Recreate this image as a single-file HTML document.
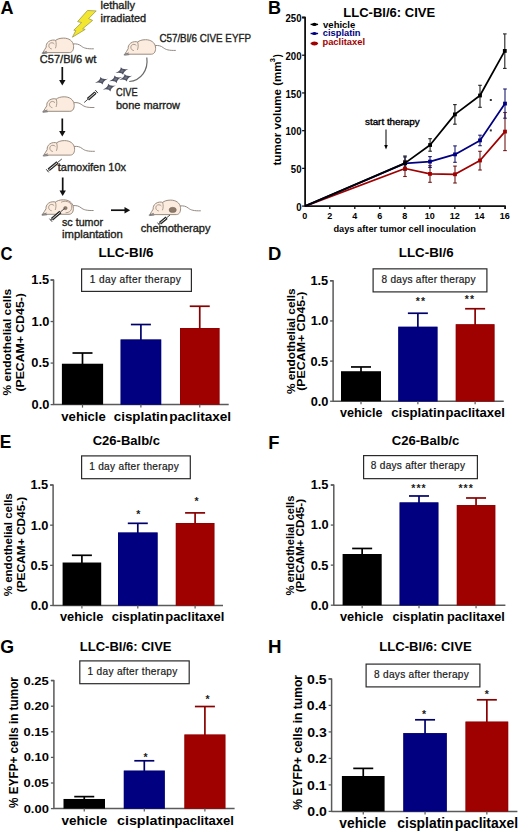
<!DOCTYPE html>
<html><head><meta charset="utf-8"><style>
html,body{margin:0;padding:0;background:#fff;}
svg{display:block;font-family:"Liberation Sans", sans-serif;}
</style></head><body>
<svg width="520" height="833" viewBox="0 0 520 833">
<rect width="520" height="833" fill="#fff"/>
<path d="M50.60,280.00 H53.60 V404.60 H228.70" fill="none" stroke="#5a5a5a" stroke-width="1.5" stroke-linejoin="round"/>
<line x1="50.60" y1="404.60" x2="53.60" y2="404.60" stroke="#5a5a5a" stroke-width="1.3" />
<text x="31.53" y="409.00" font-size="12.8" font-weight="bold" fill="#000" textLength="17.79" lengthAdjust="spacingAndGlyphs">0.0</text>
<line x1="50.60" y1="363.07" x2="53.60" y2="363.07" stroke="#5a5a5a" stroke-width="1.3" />
<text x="31.36" y="367.47" font-size="12.8" font-weight="bold" fill="#000" textLength="17.79" lengthAdjust="spacingAndGlyphs">0.5</text>
<line x1="50.60" y1="321.53" x2="53.60" y2="321.53" stroke="#5a5a5a" stroke-width="1.3" />
<text x="31.53" y="325.93" font-size="12.8" font-weight="bold" fill="#000" textLength="17.79" lengthAdjust="spacingAndGlyphs">1.0</text>
<line x1="50.60" y1="280.00" x2="53.60" y2="280.00" stroke="#5a5a5a" stroke-width="1.3" />
<text x="31.36" y="284.39" font-size="12.8" font-weight="bold" fill="#000" textLength="17.79" lengthAdjust="spacingAndGlyphs">1.5</text>
<line x1="82.50" y1="364.73" x2="82.50" y2="353.01" stroke="#000" stroke-width="1.7" />
<line x1="72.50" y1="353.01" x2="92.50" y2="353.01" stroke="#000" stroke-width="1.7" />
<rect x="61.90" y="363.73" width="41.20" height="40.87" fill="#000" />
<line x1="82.50" y1="404.60" x2="82.50" y2="407.60" stroke="#5a5a5a" stroke-width="1.2" />
<line x1="140.90" y1="340.47" x2="140.90" y2="324.52" stroke="#00006c" stroke-width="1.7" />
<line x1="130.90" y1="324.52" x2="150.90" y2="324.52" stroke="#00006c" stroke-width="1.7" />
<rect x="120.60" y="339.47" width="40.60" height="65.13" fill="#000080" />
<rect x="121.00" y="339.87" width="39.80" height="64.73" fill="none" stroke="#00006c" stroke-width="0.8" opacity="0.6"/>
<line x1="140.90" y1="404.60" x2="140.90" y2="407.60" stroke="#5a5a5a" stroke-width="1.2" />
<line x1="199.75" y1="329.01" x2="199.75" y2="306.25" stroke="#880000" stroke-width="1.7" />
<line x1="189.75" y1="306.25" x2="209.75" y2="306.25" stroke="#880000" stroke-width="1.7" />
<rect x="180.00" y="328.01" width="39.50" height="76.59" fill="#9f0000" />
<rect x="180.40" y="328.41" width="38.70" height="76.19" fill="none" stroke="#880000" stroke-width="0.8" opacity="0.6"/>
<line x1="199.75" y1="404.60" x2="199.75" y2="407.60" stroke="#5a5a5a" stroke-width="1.2" />
<rect x="81.60" y="269.00" width="109.80" height="22.40" fill="#fff" stroke="#2a2a2a" stroke-width="1.2"/>
<text x="89.83" y="283.00" font-size="10.1" font-weight="normal" fill="#1a1a1a" textLength="90.99" lengthAdjust="spacing" stroke="#1a1a1a" stroke-width="0.2">1 day after therapy</text>
<text x="98.50" y="257.10" font-size="12" font-weight="bold" fill="#000" textLength="55.08" lengthAdjust="spacingAndGlyphs" >LLC-Bl/6</text>
<text x="0.52" y="260.10" font-size="18" font-weight="bold" fill="#000" textLength="12.04" lengthAdjust="spacingAndGlyphs" >C</text>
<text x="61.35" y="421.00" font-size="12.5" font-weight="bold" fill="#000" textLength="44.40" lengthAdjust="spacingAndGlyphs" >vehicle</text>
<text x="113.78" y="421.00" font-size="12.5" font-weight="bold" fill="#000" textLength="54.25" lengthAdjust="spacingAndGlyphs" >cisplatin</text>
<text x="169.20" y="421.00" font-size="12.5" font-weight="bold" fill="#000" textLength="61.96" lengthAdjust="spacingAndGlyphs" >paclitaxel</text>
<text transform="translate(10.80,395.60) rotate(-90)" x="0" y="0" font-size="11.8" font-weight="bold" fill="#000" textLength="106.69" lengthAdjust="spacingAndGlyphs" >% endothelial cells</text>
<text transform="translate(23.80,391.61) rotate(-90)" x="0" y="0" font-size="11.5" font-weight="bold" fill="#000" textLength="98.52" lengthAdjust="spacingAndGlyphs" >(PECAM+ CD45-)</text>
<path d="M330.10,280.80 H333.10 V401.25 H503.75" fill="none" stroke="#5a5a5a" stroke-width="1.5" stroke-linejoin="round"/>
<line x1="330.10" y1="401.25" x2="333.10" y2="401.25" stroke="#5a5a5a" stroke-width="1.3" />
<text x="310.63" y="405.65" font-size="12.8" font-weight="bold" fill="#000" textLength="17.79" lengthAdjust="spacingAndGlyphs">0.0</text>
<line x1="330.10" y1="361.10" x2="333.10" y2="361.10" stroke="#5a5a5a" stroke-width="1.3" />
<text x="310.46" y="365.50" font-size="12.8" font-weight="bold" fill="#000" textLength="17.79" lengthAdjust="spacingAndGlyphs">0.5</text>
<line x1="330.10" y1="320.95" x2="333.10" y2="320.95" stroke="#5a5a5a" stroke-width="1.3" />
<text x="310.63" y="325.35" font-size="12.8" font-weight="bold" fill="#000" textLength="17.79" lengthAdjust="spacingAndGlyphs">1.0</text>
<line x1="330.10" y1="280.80" x2="333.10" y2="280.80" stroke="#5a5a5a" stroke-width="1.3" />
<text x="310.46" y="285.20" font-size="12.8" font-weight="bold" fill="#000" textLength="17.79" lengthAdjust="spacingAndGlyphs">1.5</text>
<line x1="361.00" y1="372.22" x2="361.00" y2="366.96" stroke="#000" stroke-width="1.7" />
<line x1="351.00" y1="366.96" x2="371.00" y2="366.96" stroke="#000" stroke-width="1.7" />
<rect x="341.00" y="371.22" width="40.00" height="30.03" fill="#000" />
<line x1="361.00" y1="401.25" x2="361.00" y2="404.25" stroke="#5a5a5a" stroke-width="1.2" />
<line x1="417.88" y1="327.73" x2="417.88" y2="313.24" stroke="#00006c" stroke-width="1.7" />
<line x1="407.88" y1="313.24" x2="427.88" y2="313.24" stroke="#00006c" stroke-width="1.7" />
<rect x="398.25" y="326.73" width="39.25" height="74.52" fill="#000080" />
<rect x="398.65" y="327.13" width="38.45" height="74.12" fill="none" stroke="#00006c" stroke-width="0.8" opacity="0.6"/>
<line x1="417.88" y1="401.25" x2="417.88" y2="404.25" stroke="#5a5a5a" stroke-width="1.2" />
<line x1="475.12" y1="325.24" x2="475.12" y2="308.74" stroke="#880000" stroke-width="1.7" />
<line x1="465.12" y1="308.74" x2="485.12" y2="308.74" stroke="#880000" stroke-width="1.7" />
<rect x="455.75" y="324.24" width="38.75" height="77.01" fill="#9f0000" />
<rect x="456.15" y="324.64" width="37.95" height="76.61" fill="none" stroke="#880000" stroke-width="0.8" opacity="0.6"/>
<line x1="475.12" y1="401.25" x2="475.12" y2="404.25" stroke="#5a5a5a" stroke-width="1.2" />
<text x="415.80" y="304.65" font-size="10.5" font-weight="bold" fill="#1a1a1a">*</text>
<text x="420.90" y="304.65" font-size="10.5" font-weight="bold" fill="#1a1a1a">*</text>
<text x="464.80" y="302.95" font-size="10.5" font-weight="bold" fill="#1a1a1a">*</text>
<text x="469.90" y="302.95" font-size="10.5" font-weight="bold" fill="#1a1a1a">*</text>
<rect x="373.10" y="268.85" width="113.80" height="23.05" fill="#fff" stroke="#2a2a2a" stroke-width="1.2"/>
<text x="381.56" y="282.65" font-size="10.1" font-weight="normal" fill="#1a1a1a" textLength="93.96" lengthAdjust="spacing" stroke="#1a1a1a" stroke-width="0.2">8 days after therapy</text>
<text x="398.86" y="257.10" font-size="12" font-weight="bold" fill="#000" textLength="54.72" lengthAdjust="spacingAndGlyphs" >LLC-Bl/6</text>
<text x="267.97" y="259.60" font-size="18" font-weight="bold" fill="#000" textLength="13.31" lengthAdjust="spacingAndGlyphs" >D</text>
<text x="339.95" y="417.30" font-size="12.5" font-weight="bold" fill="#000" textLength="42.58" lengthAdjust="spacingAndGlyphs" >vehicle</text>
<text x="391.18" y="417.30" font-size="12.5" font-weight="bold" fill="#000" textLength="53.53" lengthAdjust="spacingAndGlyphs" >cisplatin</text>
<text x="445.44" y="417.30" font-size="12.5" font-weight="bold" fill="#000" textLength="59.48" lengthAdjust="spacingAndGlyphs" >paclitaxel</text>
<text transform="translate(295.00,394.09) rotate(-90)" x="0" y="0" font-size="11.8" font-weight="bold" fill="#000" textLength="105.68" lengthAdjust="spacingAndGlyphs" >% endothelial cells</text>
<text transform="translate(304.50,390.82) rotate(-90)" x="0" y="0" font-size="11.5" font-weight="bold" fill="#000" textLength="99.23" lengthAdjust="spacingAndGlyphs" >(PECAM+ CD45-)</text>
<path d="M50.10,485.00 H53.10 V605.50 H223.00" fill="none" stroke="#5a5a5a" stroke-width="1.5" stroke-linejoin="round"/>
<line x1="50.10" y1="605.50" x2="53.10" y2="605.50" stroke="#5a5a5a" stroke-width="1.3" />
<text x="30.63" y="609.90" font-size="12.8" font-weight="bold" fill="#000" textLength="17.79" lengthAdjust="spacingAndGlyphs">0.0</text>
<line x1="50.10" y1="565.34" x2="53.10" y2="565.34" stroke="#5a5a5a" stroke-width="1.3" />
<text x="30.46" y="569.74" font-size="12.8" font-weight="bold" fill="#000" textLength="17.79" lengthAdjust="spacingAndGlyphs">0.5</text>
<line x1="50.10" y1="525.17" x2="53.10" y2="525.17" stroke="#5a5a5a" stroke-width="1.3" />
<text x="30.63" y="529.57" font-size="12.8" font-weight="bold" fill="#000" textLength="17.79" lengthAdjust="spacingAndGlyphs">1.0</text>
<line x1="50.10" y1="485.00" x2="53.10" y2="485.00" stroke="#5a5a5a" stroke-width="1.3" />
<text x="30.46" y="489.40" font-size="12.8" font-weight="bold" fill="#000" textLength="17.79" lengthAdjust="spacingAndGlyphs">1.5</text>
<line x1="81.90" y1="563.52" x2="81.90" y2="555.29" stroke="#000" stroke-width="1.7" />
<line x1="71.90" y1="555.29" x2="91.90" y2="555.29" stroke="#000" stroke-width="1.7" />
<rect x="62.60" y="562.52" width="38.60" height="42.98" fill="#000" />
<line x1="81.90" y1="605.50" x2="81.90" y2="608.50" stroke="#5a5a5a" stroke-width="1.2" />
<line x1="137.80" y1="533.48" x2="137.80" y2="523.32" stroke="#00006c" stroke-width="1.7" />
<line x1="127.80" y1="523.32" x2="147.80" y2="523.32" stroke="#00006c" stroke-width="1.7" />
<rect x="118.00" y="532.48" width="39.60" height="73.02" fill="#000080" />
<rect x="118.40" y="532.88" width="38.80" height="72.62" fill="none" stroke="#00006c" stroke-width="0.8" opacity="0.6"/>
<line x1="137.80" y1="605.50" x2="137.80" y2="608.50" stroke="#5a5a5a" stroke-width="1.2" />
<line x1="195.10" y1="524.00" x2="195.10" y2="512.88" stroke="#880000" stroke-width="1.7" />
<line x1="185.10" y1="512.88" x2="205.10" y2="512.88" stroke="#880000" stroke-width="1.7" />
<rect x="175.80" y="523.00" width="38.60" height="82.50" fill="#9f0000" />
<rect x="176.20" y="523.40" width="37.80" height="82.10" fill="none" stroke="#880000" stroke-width="0.8" opacity="0.6"/>
<line x1="195.10" y1="605.50" x2="195.10" y2="608.50" stroke="#5a5a5a" stroke-width="1.2" />
<text x="136.25" y="518.15" font-size="10.5" font-weight="bold" fill="#1a1a1a">*</text>
<text x="194.45" y="504.55" font-size="10.5" font-weight="bold" fill="#1a1a1a">*</text>
<rect x="81.60" y="455.90" width="108.70" height="22.80" fill="#fff" stroke="#2a2a2a" stroke-width="1.2"/>
<text x="89.13" y="469.80" font-size="10.1" font-weight="normal" fill="#1a1a1a" textLength="89.69" lengthAdjust="spacing" stroke="#1a1a1a" stroke-width="0.2">1 day after therapy</text>
<text x="92.67" y="444.50" font-size="12.6" font-weight="bold" fill="#000" textLength="67.32" lengthAdjust="spacingAndGlyphs" >C26-Balb/c</text>
<text x="-0.16" y="448.20" font-size="18" font-weight="bold" fill="#000" textLength="11.53" lengthAdjust="spacingAndGlyphs" >E</text>
<text x="59.95" y="620.80" font-size="12.5" font-weight="bold" fill="#000" textLength="43.29" lengthAdjust="spacingAndGlyphs" >vehicle</text>
<text x="111.69" y="620.80" font-size="12.5" font-weight="bold" fill="#000" textLength="52.51" lengthAdjust="spacingAndGlyphs" >cisplatin</text>
<text x="165.25" y="620.80" font-size="12.5" font-weight="bold" fill="#000" textLength="59.07" lengthAdjust="spacingAndGlyphs" >paclitaxel</text>
<text transform="translate(11.50,596.29) rotate(-90)" x="0" y="0" font-size="11.8" font-weight="bold" fill="#000" textLength="103.06" lengthAdjust="spacingAndGlyphs" >% endothelial cells</text>
<text transform="translate(24.50,592.29) rotate(-90)" x="0" y="0" font-size="11.5" font-weight="bold" fill="#000" textLength="95.59" lengthAdjust="spacingAndGlyphs" >(PECAM+ CD45-)</text>
<path d="M330.80,485.01 H333.80 V605.20 H505.40" fill="none" stroke="#5a5a5a" stroke-width="1.5" stroke-linejoin="round"/>
<line x1="330.80" y1="605.20" x2="333.80" y2="605.20" stroke="#5a5a5a" stroke-width="1.3" />
<text x="310.83" y="609.60" font-size="12.8" font-weight="bold" fill="#000" textLength="17.79" lengthAdjust="spacingAndGlyphs">0.0</text>
<line x1="330.80" y1="565.13" x2="333.80" y2="565.13" stroke="#5a5a5a" stroke-width="1.3" />
<text x="310.66" y="569.53" font-size="12.8" font-weight="bold" fill="#000" textLength="17.79" lengthAdjust="spacingAndGlyphs">0.5</text>
<line x1="330.80" y1="525.07" x2="333.80" y2="525.07" stroke="#5a5a5a" stroke-width="1.3" />
<text x="310.83" y="529.47" font-size="12.8" font-weight="bold" fill="#000" textLength="17.79" lengthAdjust="spacingAndGlyphs">1.0</text>
<line x1="330.80" y1="485.01" x2="333.80" y2="485.01" stroke="#5a5a5a" stroke-width="1.3" />
<text x="310.66" y="489.41" font-size="12.8" font-weight="bold" fill="#000" textLength="17.79" lengthAdjust="spacingAndGlyphs">1.5</text>
<line x1="362.15" y1="555.00" x2="362.15" y2="548.47" stroke="#000" stroke-width="1.7" />
<line x1="352.15" y1="548.47" x2="372.15" y2="548.47" stroke="#000" stroke-width="1.7" />
<rect x="342.60" y="554.00" width="39.10" height="51.20" fill="#000" />
<line x1="362.15" y1="605.20" x2="362.15" y2="608.20" stroke="#5a5a5a" stroke-width="1.2" />
<line x1="419.00" y1="503.39" x2="419.00" y2="495.98" stroke="#00006c" stroke-width="1.7" />
<line x1="409.00" y1="495.98" x2="429.00" y2="495.98" stroke="#00006c" stroke-width="1.7" />
<rect x="399.60" y="502.39" width="38.80" height="102.81" fill="#000080" />
<rect x="400.00" y="502.79" width="38.00" height="102.41" fill="none" stroke="#00006c" stroke-width="0.8" opacity="0.6"/>
<line x1="419.00" y1="605.20" x2="419.00" y2="608.20" stroke="#5a5a5a" stroke-width="1.2" />
<line x1="476.05" y1="506.04" x2="476.05" y2="497.99" stroke="#880000" stroke-width="1.7" />
<line x1="466.05" y1="497.99" x2="486.05" y2="497.99" stroke="#880000" stroke-width="1.7" />
<rect x="456.80" y="505.04" width="38.50" height="100.16" fill="#9f0000" />
<rect x="457.20" y="505.44" width="37.70" height="99.76" fill="none" stroke="#880000" stroke-width="0.8" opacity="0.6"/>
<line x1="476.05" y1="605.20" x2="476.05" y2="608.20" stroke="#5a5a5a" stroke-width="1.2" />
<text x="411.35" y="492.05" font-size="10.5" font-weight="bold" fill="#1a1a1a">*</text>
<text x="416.45" y="492.05" font-size="10.5" font-weight="bold" fill="#1a1a1a">*</text>
<text x="421.55" y="492.05" font-size="10.5" font-weight="bold" fill="#1a1a1a">*</text>
<text x="458.45" y="492.05" font-size="10.5" font-weight="bold" fill="#1a1a1a">*</text>
<text x="463.55" y="492.05" font-size="10.5" font-weight="bold" fill="#1a1a1a">*</text>
<text x="468.65" y="492.05" font-size="10.5" font-weight="bold" fill="#1a1a1a">*</text>
<rect x="363.60" y="455.60" width="113.80" height="23.05" fill="#fff" stroke="#2a2a2a" stroke-width="1.2"/>
<text x="370.81" y="469.40" font-size="10.1" font-weight="normal" fill="#1a1a1a" textLength="94.21" lengthAdjust="spacing" stroke="#1a1a1a" stroke-width="0.2">8 days after therapy</text>
<text x="391.76" y="444.80" font-size="12.6" font-weight="bold" fill="#000" textLength="67.62" lengthAdjust="spacingAndGlyphs" >C26-Balb/c</text>
<text x="268.27" y="448.50" font-size="18" font-weight="bold" fill="#000" textLength="11.20" lengthAdjust="spacingAndGlyphs" >F</text>
<text x="339.95" y="620.50" font-size="12.5" font-weight="bold" fill="#000" textLength="43.29" lengthAdjust="spacingAndGlyphs" >vehicle</text>
<text x="392.40" y="620.50" font-size="12.5" font-weight="bold" fill="#000" textLength="51.79" lengthAdjust="spacingAndGlyphs" >cisplatin</text>
<text x="446.96" y="620.50" font-size="12.5" font-weight="bold" fill="#000" textLength="57.94" lengthAdjust="spacingAndGlyphs" >paclitaxel</text>
<text transform="translate(293.60,595.58) rotate(-90)" x="0" y="0" font-size="11.8" font-weight="bold" fill="#000" textLength="99.94" lengthAdjust="spacingAndGlyphs" >% endothelial cells</text>
<text transform="translate(303.90,592.28) rotate(-90)" x="0" y="0" font-size="11.5" font-weight="bold" fill="#000" textLength="93.36" lengthAdjust="spacingAndGlyphs" >(PECAM+ CD45-)</text>
<path d="M50.90,680.60 H53.90 V808.60 H234.60" fill="none" stroke="#5a5a5a" stroke-width="1.5" stroke-linejoin="round"/>
<line x1="50.90" y1="808.60" x2="53.90" y2="808.60" stroke="#5a5a5a" stroke-width="1.3" />
<text x="23.66" y="812.60" font-size="11.6" font-weight="bold" fill="#000" textLength="25.27" lengthAdjust="spacingAndGlyphs">0.00</text>
<line x1="50.90" y1="783.00" x2="53.90" y2="783.00" stroke="#5a5a5a" stroke-width="1.3" />
<text x="23.49" y="787.00" font-size="11.6" font-weight="bold" fill="#000" textLength="25.27" lengthAdjust="spacingAndGlyphs">0.05</text>
<line x1="50.90" y1="757.40" x2="53.90" y2="757.40" stroke="#5a5a5a" stroke-width="1.3" />
<text x="23.66" y="761.40" font-size="11.6" font-weight="bold" fill="#000" textLength="25.27" lengthAdjust="spacingAndGlyphs">0.10</text>
<line x1="50.90" y1="731.80" x2="53.90" y2="731.80" stroke="#5a5a5a" stroke-width="1.3" />
<text x="23.49" y="735.80" font-size="11.6" font-weight="bold" fill="#000" textLength="25.27" lengthAdjust="spacingAndGlyphs">0.15</text>
<line x1="50.90" y1="706.20" x2="53.90" y2="706.20" stroke="#5a5a5a" stroke-width="1.3" />
<text x="23.66" y="710.20" font-size="11.6" font-weight="bold" fill="#000" textLength="25.27" lengthAdjust="spacingAndGlyphs">0.20</text>
<line x1="50.90" y1="680.60" x2="53.90" y2="680.60" stroke="#5a5a5a" stroke-width="1.3" />
<text x="23.49" y="684.60" font-size="11.6" font-weight="bold" fill="#000" textLength="25.27" lengthAdjust="spacingAndGlyphs">0.25</text>
<line x1="84.25" y1="799.97" x2="84.25" y2="796.62" stroke="#000" stroke-width="1.7" />
<line x1="74.25" y1="796.62" x2="94.25" y2="796.62" stroke="#000" stroke-width="1.7" />
<rect x="63.50" y="798.97" width="41.50" height="9.63" fill="#000" />
<line x1="84.25" y1="808.60" x2="84.25" y2="811.60" stroke="#5a5a5a" stroke-width="1.2" />
<line x1="144.30" y1="771.61" x2="144.30" y2="760.78" stroke="#00006c" stroke-width="1.7" />
<line x1="134.30" y1="760.78" x2="154.30" y2="760.78" stroke="#00006c" stroke-width="1.7" />
<rect x="123.80" y="770.61" width="41.00" height="37.99" fill="#000080" />
<rect x="124.20" y="771.01" width="40.20" height="37.59" fill="none" stroke="#00006c" stroke-width="0.8" opacity="0.6"/>
<line x1="144.30" y1="808.60" x2="144.30" y2="811.60" stroke="#5a5a5a" stroke-width="1.2" />
<line x1="204.90" y1="735.51" x2="204.90" y2="706.51" stroke="#880000" stroke-width="1.7" />
<line x1="194.90" y1="706.51" x2="214.90" y2="706.51" stroke="#880000" stroke-width="1.7" />
<rect x="184.40" y="734.51" width="41.00" height="74.09" fill="#9f0000" />
<rect x="184.80" y="734.91" width="40.20" height="73.69" fill="none" stroke="#880000" stroke-width="0.8" opacity="0.6"/>
<line x1="204.90" y1="808.60" x2="204.90" y2="811.60" stroke="#5a5a5a" stroke-width="1.2" />
<text x="143.45" y="761.25" font-size="10.5" font-weight="bold" fill="#1a1a1a">*</text>
<text x="205.45" y="703.15" font-size="10.5" font-weight="bold" fill="#1a1a1a">*</text>
<rect x="79.80" y="660.90" width="109.40" height="22.80" fill="#fff" stroke="#2a2a2a" stroke-width="1.2"/>
<text x="87.53" y="674.80" font-size="10.1" font-weight="normal" fill="#1a1a1a" textLength="89.79" lengthAdjust="spacing" stroke="#1a1a1a" stroke-width="0.2">1 day after therapy</text>
<text x="79.83" y="650.50" font-size="12.8" font-weight="bold" fill="#000" textLength="91.68" lengthAdjust="spacingAndGlyphs" >LLC-Bl/6: CIVE</text>
<text x="0.27" y="652.60" font-size="18" font-weight="bold" fill="#000" textLength="13.83" lengthAdjust="spacingAndGlyphs" >G</text>
<text x="61.45" y="824.90" font-size="13" font-weight="bold" fill="#000" textLength="45.76" lengthAdjust="spacingAndGlyphs" >vehicle</text>
<text x="116.94" y="824.90" font-size="13" font-weight="bold" fill="#000" textLength="58.15" lengthAdjust="spacingAndGlyphs" >cisplatin</text>
<text x="174.44" y="824.90" font-size="13" font-weight="bold" fill="#000" textLength="59.48" lengthAdjust="spacingAndGlyphs" >paclitaxel</text>
<text transform="translate(18.30,807.89) rotate(-90)" x="0" y="0" font-size="12.6" font-weight="bold" fill="#000" textLength="130.77" lengthAdjust="spacingAndGlyphs" >% EYFP+ cells in tumor</text>
<path d="M328.60,678.90 H331.60 V811.40 H517.40" fill="none" stroke="#5a5a5a" stroke-width="1.5" stroke-linejoin="round"/>
<line x1="328.60" y1="811.40" x2="331.60" y2="811.40" stroke="#5a5a5a" stroke-width="1.3" />
<text x="307.32" y="816.00" font-size="12.5" font-weight="bold" fill="#000" textLength="19.55" lengthAdjust="spacingAndGlyphs">0.0</text>
<line x1="328.60" y1="784.90" x2="331.60" y2="784.90" stroke="#5a5a5a" stroke-width="1.3" />
<text x="307.14" y="789.50" font-size="12.5" font-weight="bold" fill="#000" textLength="19.55" lengthAdjust="spacingAndGlyphs">0.1</text>
<line x1="328.60" y1="758.40" x2="331.60" y2="758.40" stroke="#5a5a5a" stroke-width="1.3" />
<text x="307.31" y="763.00" font-size="12.5" font-weight="bold" fill="#000" textLength="19.55" lengthAdjust="spacingAndGlyphs">0.2</text>
<line x1="328.60" y1="731.90" x2="331.60" y2="731.90" stroke="#5a5a5a" stroke-width="1.3" />
<text x="307.26" y="736.50" font-size="12.5" font-weight="bold" fill="#000" textLength="19.55" lengthAdjust="spacingAndGlyphs">0.3</text>
<line x1="328.60" y1="705.40" x2="331.60" y2="705.40" stroke="#5a5a5a" stroke-width="1.3" />
<text x="306.82" y="710.00" font-size="12.5" font-weight="bold" fill="#000" textLength="19.55" lengthAdjust="spacingAndGlyphs">0.4</text>
<line x1="328.60" y1="678.90" x2="331.60" y2="678.90" stroke="#5a5a5a" stroke-width="1.3" />
<text x="307.14" y="683.50" font-size="12.5" font-weight="bold" fill="#000" textLength="19.55" lengthAdjust="spacingAndGlyphs">0.5</text>
<line x1="363.25" y1="777.00" x2="363.25" y2="768.39" stroke="#000" stroke-width="1.7" />
<line x1="353.25" y1="768.39" x2="373.25" y2="768.39" stroke="#000" stroke-width="1.7" />
<rect x="341.90" y="776.00" width="42.70" height="35.40" fill="#000" />
<line x1="363.25" y1="811.40" x2="363.25" y2="814.40" stroke="#5a5a5a" stroke-width="1.2" />
<line x1="425.05" y1="734.09" x2="425.05" y2="719.79" stroke="#00006c" stroke-width="1.7" />
<line x1="415.05" y1="719.79" x2="435.05" y2="719.79" stroke="#00006c" stroke-width="1.7" />
<rect x="403.30" y="733.09" width="43.50" height="78.31" fill="#000080" />
<rect x="403.70" y="733.49" width="42.70" height="77.91" fill="none" stroke="#00006c" stroke-width="0.8" opacity="0.6"/>
<line x1="425.05" y1="811.40" x2="425.05" y2="814.40" stroke="#5a5a5a" stroke-width="1.2" />
<line x1="486.85" y1="722.59" x2="486.85" y2="699.81" stroke="#880000" stroke-width="1.7" />
<line x1="476.85" y1="699.81" x2="496.85" y2="699.81" stroke="#880000" stroke-width="1.7" />
<rect x="465.50" y="721.59" width="42.70" height="89.81" fill="#9f0000" />
<rect x="465.90" y="721.99" width="41.90" height="89.41" fill="none" stroke="#880000" stroke-width="0.8" opacity="0.6"/>
<line x1="486.85" y1="811.40" x2="486.85" y2="814.40" stroke="#5a5a5a" stroke-width="1.2" />
<text x="421.95" y="717.85" font-size="10.5" font-weight="bold" fill="#1a1a1a">*</text>
<text x="484.65" y="698.25" font-size="10.5" font-weight="bold" fill="#1a1a1a">*</text>
<rect x="366.10" y="664.10" width="113.80" height="22.80" fill="#fff" stroke="#2a2a2a" stroke-width="1.2"/>
<text x="374.06" y="677.90" font-size="10.1" font-weight="normal" fill="#1a1a1a" textLength="94.71" lengthAdjust="spacing" stroke="#1a1a1a" stroke-width="0.2">8 days after therapy</text>
<text x="379.33" y="650.80" font-size="12.8" font-weight="bold" fill="#000" textLength="92.29" lengthAdjust="spacingAndGlyphs" >LLC-Bl/6: CIVE</text>
<text x="267.95" y="652.80" font-size="18" font-weight="bold" fill="#000" textLength="13.51" lengthAdjust="spacingAndGlyphs" >H</text>
<text x="339.35" y="828.00" font-size="14" font-weight="bold" fill="#000" textLength="46.72" lengthAdjust="spacingAndGlyphs" >vehicle</text>
<text x="397.36" y="828.00" font-size="14" font-weight="bold" fill="#000" textLength="56.20" lengthAdjust="spacingAndGlyphs" >cisplatin</text>
<text x="454.68" y="828.00" font-size="14" font-weight="bold" fill="#000" textLength="63.40" lengthAdjust="spacingAndGlyphs" >paclitaxel</text>
<text transform="translate(302.40,809.70) rotate(-90)" x="0" y="0" font-size="13" font-weight="bold" fill="#000" textLength="134.68" lengthAdjust="spacingAndGlyphs" >% EYFP+ cells in tumor</text>
<path d="M302.10,17.50 H305.10 V206.10 H505.10 V209.10" fill="none" stroke="#111" stroke-width="1.8" stroke-linejoin="round"/>
<line x1="302.10" y1="206.10" x2="305.10" y2="206.10" stroke="#111" stroke-width="1.3" />
<text x="296.15" y="210.70" font-size="10" font-weight="bold" fill="#000" textLength="5.34" lengthAdjust="spacingAndGlyphs">0</text>
<line x1="302.10" y1="168.38" x2="305.10" y2="168.38" stroke="#111" stroke-width="1.3" />
<text x="290.82" y="172.98" font-size="10" font-weight="bold" fill="#000" textLength="10.68" lengthAdjust="spacingAndGlyphs">50</text>
<line x1="302.10" y1="130.66" x2="305.10" y2="130.66" stroke="#111" stroke-width="1.3" />
<text x="285.48" y="135.26" font-size="10" font-weight="bold" fill="#000" textLength="16.02" lengthAdjust="spacingAndGlyphs">100</text>
<line x1="302.10" y1="92.94" x2="305.10" y2="92.94" stroke="#111" stroke-width="1.3" />
<text x="285.48" y="97.54" font-size="10" font-weight="bold" fill="#000" textLength="16.02" lengthAdjust="spacingAndGlyphs">150</text>
<line x1="302.10" y1="55.22" x2="305.10" y2="55.22" stroke="#111" stroke-width="1.3" />
<text x="285.48" y="59.82" font-size="10" font-weight="bold" fill="#000" textLength="16.02" lengthAdjust="spacingAndGlyphs">200</text>
<line x1="302.10" y1="17.50" x2="305.10" y2="17.50" stroke="#111" stroke-width="1.3" />
<text x="285.48" y="22.10" font-size="10" font-weight="bold" fill="#000" textLength="16.02" lengthAdjust="spacingAndGlyphs">250</text>
<text x="302.30" y="218.5" font-size="9" font-weight="bold">0</text>
<line x1="329.80" y1="206.10" x2="329.80" y2="209.10" stroke="#111" stroke-width="1.3" />
<text x="327.32" y="218.5" font-size="9" font-weight="bold">2</text>
<line x1="354.80" y1="206.10" x2="354.80" y2="209.10" stroke="#111" stroke-width="1.3" />
<text x="352.25" y="218.5" font-size="9" font-weight="bold">4</text>
<line x1="379.80" y1="206.10" x2="379.80" y2="209.10" stroke="#111" stroke-width="1.3" />
<text x="377.30" y="218.5" font-size="9" font-weight="bold">6</text>
<line x1="404.80" y1="206.10" x2="404.80" y2="209.10" stroke="#111" stroke-width="1.3" />
<text x="402.29" y="218.5" font-size="9" font-weight="bold">8</text>
<line x1="429.80" y1="206.10" x2="429.80" y2="209.10" stroke="#111" stroke-width="1.3" />
<text x="424.70" y="218.5" font-size="9" font-weight="bold">10</text>
<line x1="454.80" y1="206.10" x2="454.80" y2="209.10" stroke="#111" stroke-width="1.3" />
<text x="449.69" y="218.5" font-size="9" font-weight="bold">12</text>
<line x1="479.80" y1="206.10" x2="479.80" y2="209.10" stroke="#111" stroke-width="1.3" />
<text x="474.54" y="218.5" font-size="9" font-weight="bold">14</text>
<text x="499.67" y="218.5" font-size="9" font-weight="bold">16</text>
<text x="333.42" y="232.30" font-size="9.5" font-weight="bold" fill="#000" textLength="142.55" lengthAdjust="spacingAndGlyphs" >days after tumor cell inoculation</text>
<text transform="translate(281.10,165.54) rotate(-90)" x="0" y="0" font-size="11.4" font-weight="bold" fill="#000" textLength="104.16" lengthAdjust="spacingAndGlyphs" >tumor volume (mm</text>
<text transform="translate(275.40,62.37) rotate(-90)" font-size="7.5" font-weight="bold">3</text>
<text transform="translate(281.10,57.31) rotate(-90)" x="0" y="0" font-size="11.4" font-weight="bold" fill="#000" textLength="3.07" lengthAdjust="spacingAndGlyphs" >)</text>
<line x1="405.00" y1="160.50" x2="405.00" y2="176.50" stroke="#701818" stroke-width="1.1" />
<line x1="403.20" y1="160.50" x2="406.80" y2="160.50" stroke="#701818" stroke-width="1.1" />
<line x1="403.20" y1="176.50" x2="406.80" y2="176.50" stroke="#701818" stroke-width="1.1" />
<line x1="430.00" y1="165.70" x2="430.00" y2="182.30" stroke="#701818" stroke-width="1.1" />
<line x1="428.20" y1="165.70" x2="431.80" y2="165.70" stroke="#701818" stroke-width="1.1" />
<line x1="428.20" y1="182.30" x2="431.80" y2="182.30" stroke="#701818" stroke-width="1.1" />
<line x1="455.00" y1="166.10" x2="455.00" y2="183.00" stroke="#701818" stroke-width="1.1" />
<line x1="453.20" y1="166.10" x2="456.80" y2="166.10" stroke="#701818" stroke-width="1.1" />
<line x1="453.20" y1="183.00" x2="456.80" y2="183.00" stroke="#701818" stroke-width="1.1" />
<line x1="480.00" y1="151.30" x2="480.00" y2="170.00" stroke="#701818" stroke-width="1.1" />
<line x1="478.20" y1="151.30" x2="481.80" y2="151.30" stroke="#701818" stroke-width="1.1" />
<line x1="478.20" y1="170.00" x2="481.80" y2="170.00" stroke="#701818" stroke-width="1.1" />
<line x1="505.00" y1="112.50" x2="505.00" y2="150.60" stroke="#701818" stroke-width="1.1" />
<line x1="503.20" y1="112.50" x2="506.80" y2="112.50" stroke="#701818" stroke-width="1.1" />
<line x1="503.20" y1="150.60" x2="506.80" y2="150.60" stroke="#701818" stroke-width="1.1" />
<line x1="405.00" y1="157.00" x2="405.00" y2="170.00" stroke="#1c1c70" stroke-width="1.1" />
<line x1="403.20" y1="157.00" x2="406.80" y2="157.00" stroke="#1c1c70" stroke-width="1.1" />
<line x1="403.20" y1="170.00" x2="406.80" y2="170.00" stroke="#1c1c70" stroke-width="1.1" />
<line x1="430.00" y1="156.60" x2="430.00" y2="167.50" stroke="#1c1c70" stroke-width="1.1" />
<line x1="428.20" y1="156.60" x2="431.80" y2="156.60" stroke="#1c1c70" stroke-width="1.1" />
<line x1="428.20" y1="167.50" x2="431.80" y2="167.50" stroke="#1c1c70" stroke-width="1.1" />
<line x1="455.00" y1="145.90" x2="455.00" y2="162.30" stroke="#1c1c70" stroke-width="1.1" />
<line x1="453.20" y1="145.90" x2="456.80" y2="145.90" stroke="#1c1c70" stroke-width="1.1" />
<line x1="453.20" y1="162.30" x2="456.80" y2="162.30" stroke="#1c1c70" stroke-width="1.1" />
<line x1="480.00" y1="135.20" x2="480.00" y2="145.70" stroke="#1c1c70" stroke-width="1.1" />
<line x1="478.20" y1="135.20" x2="481.80" y2="135.20" stroke="#1c1c70" stroke-width="1.1" />
<line x1="478.20" y1="145.70" x2="481.80" y2="145.70" stroke="#1c1c70" stroke-width="1.1" />
<line x1="505.00" y1="89.00" x2="505.00" y2="118.20" stroke="#1c1c70" stroke-width="1.1" />
<line x1="503.20" y1="89.00" x2="506.80" y2="89.00" stroke="#1c1c70" stroke-width="1.1" />
<line x1="503.20" y1="118.20" x2="506.80" y2="118.20" stroke="#1c1c70" stroke-width="1.1" />
<line x1="405.00" y1="156.00" x2="405.00" y2="170.00" stroke="#222" stroke-width="1.1" />
<line x1="403.20" y1="156.00" x2="406.80" y2="156.00" stroke="#222" stroke-width="1.1" />
<line x1="403.20" y1="170.00" x2="406.80" y2="170.00" stroke="#222" stroke-width="1.1" />
<line x1="430.10" y1="138.70" x2="430.10" y2="151.20" stroke="#222" stroke-width="1.1" />
<line x1="428.30" y1="138.70" x2="431.90" y2="138.70" stroke="#222" stroke-width="1.1" />
<line x1="428.30" y1="151.20" x2="431.90" y2="151.20" stroke="#222" stroke-width="1.1" />
<line x1="454.90" y1="104.60" x2="454.90" y2="124.20" stroke="#222" stroke-width="1.1" />
<line x1="453.10" y1="104.60" x2="456.70" y2="104.60" stroke="#222" stroke-width="1.1" />
<line x1="453.10" y1="124.20" x2="456.70" y2="124.20" stroke="#222" stroke-width="1.1" />
<line x1="480.00" y1="85.30" x2="480.00" y2="107.30" stroke="#222" stroke-width="1.1" />
<line x1="478.20" y1="85.30" x2="481.80" y2="85.30" stroke="#222" stroke-width="1.1" />
<line x1="478.20" y1="107.30" x2="481.80" y2="107.30" stroke="#222" stroke-width="1.1" />
<line x1="504.80" y1="33.90" x2="504.80" y2="68.40" stroke="#222" stroke-width="1.1" />
<line x1="503.00" y1="33.90" x2="506.60" y2="33.90" stroke="#222" stroke-width="1.1" />
<line x1="503.00" y1="68.40" x2="506.60" y2="68.40" stroke="#222" stroke-width="1.1" />
<path d="M305.10,206.10 L405.00,168.50 L430.00,173.90 L455.00,174.30 L480.00,160.50 L505.00,131.60" fill="none" stroke="#9f0000" stroke-width="1.75" stroke-linejoin="round"/>
<rect x="403.10" y="166.60" width="3.8" height="3.8" fill="#9f0000"/>
<rect x="428.10" y="172.00" width="3.8" height="3.8" fill="#9f0000"/>
<rect x="453.10" y="172.40" width="3.8" height="3.8" fill="#9f0000"/>
<rect x="478.10" y="158.60" width="3.8" height="3.8" fill="#9f0000"/>
<rect x="503.10" y="129.70" width="3.8" height="3.8" fill="#9f0000"/>
<path d="M305.10,206.10 L405.00,163.40 L430.00,161.60 L455.00,154.40 L480.00,140.40 L505.00,103.60" fill="none" stroke="#000080" stroke-width="1.75" stroke-linejoin="round"/>
<rect x="403.10" y="161.50" width="3.8" height="3.8" fill="#000080"/>
<rect x="428.10" y="159.70" width="3.8" height="3.8" fill="#000080"/>
<rect x="453.10" y="152.50" width="3.8" height="3.8" fill="#000080"/>
<rect x="478.10" y="138.50" width="3.8" height="3.8" fill="#000080"/>
<rect x="503.10" y="101.70" width="3.8" height="3.8" fill="#000080"/>
<path d="M305.10,206.10 L405.00,163.10 L430.10,145.00 L454.90,114.40 L480.00,95.50 L504.80,50.90" fill="none" stroke="#000" stroke-width="1.75" stroke-linejoin="round"/>
<rect x="403.10" y="161.20" width="3.8" height="3.8" fill="#000"/>
<rect x="428.20" y="143.10" width="3.8" height="3.8" fill="#000"/>
<rect x="453.00" y="112.50" width="3.8" height="3.8" fill="#000"/>
<rect x="478.10" y="93.60" width="3.8" height="3.8" fill="#000"/>
<rect x="502.90" y="49.00" width="3.8" height="3.8" fill="#000"/>
<rect x="489.8" y="99" width="2" height="2" fill="#333"/>
<rect x="489.8" y="129.4" width="2" height="2" fill="#333"/>
<text x="364.98" y="124.50" font-size="8.6" font-weight="normal" fill="#000" textLength="54.79" lengthAdjust="spacingAndGlyphs" stroke="#000" stroke-width="0.35">start therapy</text>
<line x1="386.00" y1="129.50" x2="386.00" y2="146.00" stroke="#000" stroke-width="1" />
<path d="M384.2,145 L386,149.6 L387.8,145 Z" fill="#000"/>
<line x1="310.60" y1="24.40" x2="318.10" y2="24.40" stroke="#000" stroke-width="1.4" />
<ellipse cx="314.4" cy="24.40" rx="2.4" ry="1.6" fill="#000"/>
<text x="323.06" y="27.50" font-size="9.5" font-weight="bold" fill="#000" textLength="32.26" lengthAdjust="spacingAndGlyphs" >vehicle</text>
<line x1="310.60" y1="33.50" x2="318.10" y2="33.50" stroke="#000080" stroke-width="1.4" />
<ellipse cx="314.4" cy="33.50" rx="2.4" ry="1.6" fill="#000080"/>
<text x="322.74" y="35.60" font-size="9.5" font-weight="bold" fill="#000080" textLength="37.84" lengthAdjust="spacingAndGlyphs" >cisplatin</text>
<line x1="310.60" y1="43.50" x2="318.10" y2="43.50" stroke="#9f0000" stroke-width="1.4" />
<ellipse cx="314.4" cy="43.50" rx="3.2" ry="1.9" fill="#9f0000"/>
<text x="322.48" y="45.40" font-size="9.5" font-weight="bold" fill="#9f0000" textLength="42.58" lengthAdjust="spacingAndGlyphs" >paclitaxel</text>
<text x="343.33" y="16.90" font-size="13.4" font-weight="bold" fill="#000" textLength="91.78" lengthAdjust="spacingAndGlyphs" >LLC-Bl/6: CIVE</text>
<text x="267.99" y="13.80" font-size="18" font-weight="bold" fill="#000" textLength="13.03" lengthAdjust="spacingAndGlyphs" >B</text>
<text x="0.45" y="13.80" font-size="18" font-weight="bold" fill="#000" textLength="13.02" lengthAdjust="spacingAndGlyphs" >A</text>
<text x="100.50" y="9.20" font-size="10.5" font-weight="normal" text-anchor="start" fill="#231f20" textLength="34.50" lengthAdjust="spacingAndGlyphs" stroke="#231f20" stroke-width="0.35">lethally</text>
<text x="100.50" y="21.90" font-size="10.5" font-weight="normal" text-anchor="start" fill="#231f20" textLength="45.70" lengthAdjust="spacingAndGlyphs" stroke="#231f20" stroke-width="0.35">irradiated</text>
<text x="39.80" y="63.20" font-size="10.5" font-weight="normal" text-anchor="start" fill="#231f20" textLength="56.50" lengthAdjust="spacingAndGlyphs" stroke="#231f20" stroke-width="0.35">C57/Bl/6 wt</text>
<text x="159.40" y="42.40" font-size="10.5" font-weight="normal" text-anchor="start" fill="#231f20" textLength="91.60" lengthAdjust="spacingAndGlyphs" stroke="#231f20" stroke-width="0.35">C57/Bl/6 CIVE EYFP</text>
<text x="116.00" y="96.40" font-size="10.5" font-weight="normal" text-anchor="start" fill="#231f20" textLength="21.60" lengthAdjust="spacingAndGlyphs" stroke="#231f20" stroke-width="0.35">CIVE</text>
<text x="116.00" y="109.20" font-size="10.5" font-weight="normal" text-anchor="start" fill="#231f20" textLength="64.00" lengthAdjust="spacingAndGlyphs" stroke="#231f20" stroke-width="0.35">bone marrow</text>
<text x="57.80" y="171.00" font-size="10.5" font-weight="normal" text-anchor="start" fill="#231f20" textLength="68.20" lengthAdjust="spacingAndGlyphs" stroke="#231f20" stroke-width="0.35">tamoxifen 10x</text>
<text x="62.00" y="225.80" font-size="10.5" font-weight="normal" text-anchor="start" fill="#231f20" textLength="41.00" lengthAdjust="spacingAndGlyphs" stroke="#231f20" stroke-width="0.35">sc tumor</text>
<text x="62.00" y="238.20" font-size="10.5" font-weight="normal" text-anchor="start" fill="#231f20" textLength="60.80" lengthAdjust="spacingAndGlyphs" stroke="#231f20" stroke-width="0.35">implantation</text>
<text x="140.80" y="231.70" font-size="10.5" font-weight="normal" text-anchor="start" fill="#231f20" textLength="69.70" lengthAdjust="spacingAndGlyphs" stroke="#231f20" stroke-width="0.35">chemotherapy</text>
<g transform="translate(42.80,52.60) scale(1.0)"><path d="M30.2,-8.6 C33.5,-9 36,-8.5 38.5,-6.5 C41,-4.5 44,-3.6 51,-3.8" fill="none" stroke="#948a82" stroke-width="1"/><path d="M1.5,0 L26.5,0 C29.8,0 31.2,-3.5 30.7,-7.2 C30.1,-11.8 26,-14.5 20.8,-14.5 C17,-14.5 14.5,-13.5 12.8,-12.2 C11.5,-12.8 8,-12.8 5.8,-11 C3.8,-9.5 3.2,-7.5 3.4,-5.5 C2.5,-3.8 1,-1.8 0.2,-0.4 Z" fill="#fcece0" stroke="#958779" stroke-width="0.95" stroke-linejoin="round"/><path d="M12.8,-12.2 C13.7,-9.5 13.5,-6.5 12.6,-4.3" fill="none" stroke="#958779" stroke-width="0.8"/><path d="M9,-3.6 C6.4,-4 5.3,-6.8 6.6,-8.7 C7.8,-10.3 10.4,-10.2 11.6,-8.6" fill="none" stroke="#958779" stroke-width="0.8"/><path d="M-1,0.5 L4,-1.3 M-0.5,1 L4.5,0.4" stroke="#707074" stroke-width="0.9"/></g>
<g transform="translate(124.80,54.20) scale(1.0)"><path d="M30.2,-8.6 C33.5,-9 36,-8.5 38.5,-6.5 C41,-4.5 44,-3.6 51,-3.8" fill="none" stroke="#948a82" stroke-width="1"/><path d="M1.5,0 L26.5,0 C29.8,0 31.2,-3.5 30.7,-7.2 C30.1,-11.8 26,-14.5 20.8,-14.5 C17,-14.5 14.5,-13.5 12.8,-12.2 C11.5,-12.8 8,-12.8 5.8,-11 C3.8,-9.5 3.2,-7.5 3.4,-5.5 C2.5,-3.8 1,-1.8 0.2,-0.4 Z" fill="#fcece0" stroke="#958779" stroke-width="0.95" stroke-linejoin="round"/><path d="M12.8,-12.2 C13.7,-9.5 13.5,-6.5 12.6,-4.3" fill="none" stroke="#958779" stroke-width="0.8"/><path d="M9,-3.6 C6.4,-4 5.3,-6.8 6.6,-8.7 C7.8,-10.3 10.4,-10.2 11.6,-8.6" fill="none" stroke="#958779" stroke-width="0.8"/><path d="M-1,0.5 L4,-1.3 M-0.5,1 L4.5,0.4" stroke="#707074" stroke-width="0.9"/></g>
<g transform="translate(43.40,111.30) scale(1.0)"><path d="M30.2,-8.6 C33.5,-9 36,-8.5 38.5,-6.5 C41,-4.5 44,-3.6 51,-3.8" fill="none" stroke="#948a82" stroke-width="1"/><path d="M1.5,0 L26.5,0 C29.8,0 31.2,-3.5 30.7,-7.2 C30.1,-11.8 26,-14.5 20.8,-14.5 C17,-14.5 14.5,-13.5 12.8,-12.2 C11.5,-12.8 8,-12.8 5.8,-11 C3.8,-9.5 3.2,-7.5 3.4,-5.5 C2.5,-3.8 1,-1.8 0.2,-0.4 Z" fill="#fcece0" stroke="#958779" stroke-width="0.95" stroke-linejoin="round"/><path d="M12.8,-12.2 C13.7,-9.5 13.5,-6.5 12.6,-4.3" fill="none" stroke="#958779" stroke-width="0.8"/><path d="M9,-3.6 C6.4,-4 5.3,-6.8 6.6,-8.7 C7.8,-10.3 10.4,-10.2 11.6,-8.6" fill="none" stroke="#958779" stroke-width="0.8"/><path d="M-1,0.5 L4,-1.3 M-0.5,1 L4.5,0.4" stroke="#707074" stroke-width="0.9"/></g>
<g transform="translate(43.80,155.10) scale(1.0)"><path d="M30.2,-8.6 C33.5,-9 36,-8.5 38.5,-6.5 C41,-4.5 44,-3.6 51,-3.8" fill="none" stroke="#948a82" stroke-width="1"/><path d="M1.5,0 L26.5,0 C29.8,0 31.2,-3.5 30.7,-7.2 C30.1,-11.8 26,-14.5 20.8,-14.5 C17,-14.5 14.5,-13.5 12.8,-12.2 C11.5,-12.8 8,-12.8 5.8,-11 C3.8,-9.5 3.2,-7.5 3.4,-5.5 C2.5,-3.8 1,-1.8 0.2,-0.4 Z" fill="#fcece0" stroke="#958779" stroke-width="0.95" stroke-linejoin="round"/><path d="M12.8,-12.2 C13.7,-9.5 13.5,-6.5 12.6,-4.3" fill="none" stroke="#958779" stroke-width="0.8"/><path d="M9,-3.6 C6.4,-4 5.3,-6.8 6.6,-8.7 C7.8,-10.3 10.4,-10.2 11.6,-8.6" fill="none" stroke="#958779" stroke-width="0.8"/><path d="M-1,0.5 L4,-1.3 M-0.5,1 L4.5,0.4" stroke="#707074" stroke-width="0.9"/></g>
<g transform="translate(42.60,214.30) scale(1.0)"><path d="M30.2,-8.6 C33.5,-9 36,-8.5 38.5,-6.5 C41,-4.5 44,-3.6 51,-3.8" fill="none" stroke="#948a82" stroke-width="1"/><path d="M1.5,0 L26.5,0 C29.8,0 31.2,-3.5 30.7,-7.2 C30.1,-11.8 26,-14.5 20.8,-14.5 C17,-14.5 14.5,-13.5 12.8,-12.2 C11.5,-12.8 8,-12.8 5.8,-11 C3.8,-9.5 3.2,-7.5 3.4,-5.5 C2.5,-3.8 1,-1.8 0.2,-0.4 Z" fill="#fcece0" stroke="#958779" stroke-width="0.95" stroke-linejoin="round"/><path d="M12.8,-12.2 C13.7,-9.5 13.5,-6.5 12.6,-4.3" fill="none" stroke="#958779" stroke-width="0.8"/><path d="M9,-3.6 C6.4,-4 5.3,-6.8 6.6,-8.7 C7.8,-10.3 10.4,-10.2 11.6,-8.6" fill="none" stroke="#958779" stroke-width="0.8"/><path d="M-1,0.5 L4,-1.3 M-0.5,1 L4.5,0.4" stroke="#707074" stroke-width="0.9"/><path d="M18.5,-12 C22,-14.2 28,-12.8 29,-8.8 C30,-4.5 27,-1.5 23,-1.5" fill="none" stroke="#958779" stroke-width="0.8"/><ellipse cx="22.8" cy="-6.2" rx="1.8" ry="1.6" fill="#8e7a68" stroke="#6f6258" stroke-width="0.5"/></g>
<g transform="translate(149.80,214.60) scale(1.0)"><path d="M30.2,-8.6 C33.5,-9 36,-8.5 38.5,-6.5 C41,-4.5 44,-3.6 51,-3.8" fill="none" stroke="#948a82" stroke-width="1"/><path d="M1.5,0 L26.5,0 C29.8,0 31.2,-3.5 30.7,-7.2 C30.1,-11.8 26,-14.5 20.8,-14.5 C17,-14.5 14.5,-13.5 12.8,-12.2 C11.5,-12.8 8,-12.8 5.8,-11 C3.8,-9.5 3.2,-7.5 3.4,-5.5 C2.5,-3.8 1,-1.8 0.2,-0.4 Z" fill="#fcece0" stroke="#958779" stroke-width="0.95" stroke-linejoin="round"/><path d="M12.8,-12.2 C13.7,-9.5 13.5,-6.5 12.6,-4.3" fill="none" stroke="#958779" stroke-width="0.8"/><path d="M9,-3.6 C6.4,-4 5.3,-6.8 6.6,-8.7 C7.8,-10.3 10.4,-10.2 11.6,-8.6" fill="none" stroke="#958779" stroke-width="0.8"/><path d="M-1,0.5 L4,-1.3 M-0.5,1 L4.5,0.4" stroke="#707074" stroke-width="0.9"/><ellipse cx="22.9" cy="-4.7" rx="3.6" ry="2.6" fill="#8e7a68" stroke="#6f6258" stroke-width="0.5"/></g>
<line x1="62.30" y1="67.00" x2="62.30" y2="81.50" stroke="#111" stroke-width="1.7" />
<path d="M59.10,80.00 L62.30,85.50 L65.50,80.00 Z" fill="#111"/>
<line x1="62.30" y1="118.50" x2="62.30" y2="132.50" stroke="#111" stroke-width="1.7" />
<path d="M59.10,131.00 L62.30,136.50 L65.50,131.00 Z" fill="#111"/>
<line x1="62.70" y1="177.50" x2="62.70" y2="192.00" stroke="#111" stroke-width="1.7" />
<path d="M59.50,190.50 L62.70,196.00 L65.90,190.50 Z" fill="#111"/>
<line x1="111.00" y1="210.20" x2="125.00" y2="210.20" stroke="#111" stroke-width="1.7" />
<path d="M124.5,207 L130.2,210.2 L124.5,213.4 Z" fill="#111"/>
<path d="M146.8,57.5 C148.5,70 141,80.5 129.2,81.5" fill="none" stroke="#6a6a6a" stroke-width="1.2"/>
<line x1="84.20" y1="102.50" x2="87.92" y2="99.23" stroke="#333" stroke-width="0.9"/>
<line x1="87.92" y1="99.23" x2="95.47" y2="92.59" stroke="#262626" stroke-width="3.2"/>
<line x1="88.37" y1="98.83" x2="95.02" y2="92.99" stroke="#e4e4e4" stroke-width="1.0"/>
<line x1="97.92" y1="93.10" x2="95.28" y2="90.10" stroke="#3a3a3a" stroke-width="1"/>
<line x1="95.47" y1="92.59" x2="96.60" y2="91.60" stroke="#3a3a3a" stroke-width="0.9"/>
<line x1="61.80" y1="159.00" x2="57.51" y2="162.54" stroke="#333" stroke-width="0.9"/>
<line x1="57.51" y1="162.54" x2="48.66" y2="169.85" stroke="#262626" stroke-width="3.2"/>
<line x1="57.05" y1="162.92" x2="49.12" y2="169.46" stroke="#e4e4e4" stroke-width="1.0"/>
<line x1="46.23" y1="169.26" x2="48.77" y2="172.34" stroke="#3a3a3a" stroke-width="1"/>
<line x1="48.66" y1="169.85" x2="47.50" y2="170.80" stroke="#3a3a3a" stroke-width="0.9"/>
<line x1="64.50" y1="208.50" x2="60.39" y2="212.01" stroke="#333" stroke-width="0.9"/>
<line x1="60.39" y1="212.01" x2="51.94" y2="219.23" stroke="#262626" stroke-width="3.2"/>
<line x1="59.93" y1="212.40" x2="52.40" y2="218.84" stroke="#e4e4e4" stroke-width="1.0"/>
<line x1="49.50" y1="218.68" x2="52.10" y2="221.72" stroke="#3a3a3a" stroke-width="1"/>
<line x1="51.94" y1="219.23" x2="50.80" y2="220.20" stroke="#3a3a3a" stroke-width="0.9"/>
<line x1="170.00" y1="215.00" x2="166.64" y2="217.76" stroke="#333" stroke-width="0.9"/>
<line x1="166.64" y1="217.76" x2="159.96" y2="223.25" stroke="#262626" stroke-width="3.2"/>
<line x1="166.18" y1="218.14" x2="160.42" y2="222.87" stroke="#e4e4e4" stroke-width="1.0"/>
<line x1="157.53" y1="222.65" x2="160.07" y2="225.75" stroke="#3a3a3a" stroke-width="1"/>
<line x1="159.96" y1="223.25" x2="158.80" y2="224.20" stroke="#3a3a3a" stroke-width="0.9"/>
<path transform="translate(101.5,80.8) rotate(-18)" d="M-6.8,0 Q-0.9,-0.7 0,-4.0 Q0.9,-0.7 6.8,0 Q0.9,0.7 0,4.0 Q-0.9,0.7 -6.8,0 Z" fill="#4f5262"/>
<ellipse transform="translate(101.5,80.8) rotate(-18)" rx="1.6" ry="1.1" fill="#6e7283"/>
<path transform="translate(109.3,87.6) rotate(-18)" d="M-6.8,0 Q-0.9,-0.7 0,-4.0 Q0.9,-0.7 6.8,0 Q0.9,0.7 0,4.0 Q-0.9,0.7 -6.8,0 Z" fill="#4f5262"/>
<ellipse transform="translate(109.3,87.6) rotate(-18)" rx="1.6" ry="1.1" fill="#6e7283"/>
<path transform="translate(115.6,79.2) rotate(-18)" d="M-6.8,0 Q-0.9,-0.7 0,-4.0 Q0.9,-0.7 6.8,0 Q0.9,0.7 0,4.0 Q-0.9,0.7 -6.8,0 Z" fill="#4f5262"/>
<ellipse transform="translate(115.6,79.2) rotate(-18)" rx="1.6" ry="1.1" fill="#6e7283"/>
<path transform="translate(122,71) rotate(-18)" d="M-6.8,0 Q-0.9,-0.7 0,-4.0 Q0.9,-0.7 6.8,0 Q0.9,0.7 0,4.0 Q-0.9,0.7 -6.8,0 Z" fill="#4f5262"/>
<ellipse transform="translate(122,71) rotate(-18)" rx="1.6" ry="1.1" fill="#6e7283"/>
<path transform="translate(125.7,77.8) rotate(-18)" d="M-6.8,0 Q-0.9,-0.7 0,-4.0 Q0.9,-0.7 6.8,0 Q0.9,0.7 0,4.0 Q-0.9,0.7 -6.8,0 Z" fill="#4f5262"/>
<ellipse transform="translate(125.7,77.8) rotate(-18)" rx="1.6" ry="1.1" fill="#6e7283"/>
<path d="M87.5,10.5 L96.2,10.9 L88.6,18.6 L92.6,20.4 L82.6,28.8 L85.2,29.4 L72.4,37.2 L75.8,30.6 L73.8,30.2 L81.6,22.6 L77.6,21.6 Z" fill="#f2e630" stroke="#a09a48" stroke-width="0.8" stroke-linejoin="round"/>
</svg>
</body></html>
